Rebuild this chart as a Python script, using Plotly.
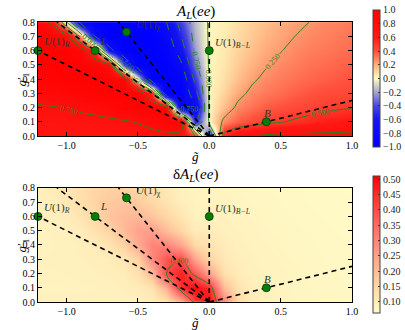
import plotly.graph_objects as go

# grid of the coupling plane
g_tilde = [-1.2, -1.1, -1.0, -0.9, -0.8, -0.7, -0.6, -0.5, -0.4, -0.3, -0.2, -0.1,
           0.0, 0.1, 0.2, 0.3, 0.4, 0.5, 0.6, 0.7, 0.8, 0.9, 1.0]
g1_prime = [0.0, 0.1, 0.2, 0.3, 0.4, 0.5, 0.6, 0.7, 0.8]

# A_L(ee) (rows = g1', columns = g_tilde)
a_l = [
    [0.68, 0.68, 0.68, 0.68, 0.68, 0.68, 0.68, 0.68, 0.68, 0.68, 0.65, 0.5, -0.5, 0.55, 0.7, 0.75, 0.78, 0.8, 0.8, 0.8, 0.8, 0.8, 0.8],
    [0.68, 0.68, 0.68, 0.68, 0.69, 0.71, 0.73, 0.76, 0.82, 0.92, 0.95, -0.5, 0.02, 0.28, 0.37, 0.42, 0.46, 0.49, 0.52, 0.55, 0.58, 0.6, 0.63],
    [0.73, 0.74, 0.76, 0.79, 0.82, 0.86, 0.92, 0.95, 0.95, 0.88, -0.9, -0.8, 0.02, 0.16, 0.28, 0.33, 0.37, 0.40, 0.42, 0.44, 0.46, 0.48, 0.49],
    [0.82, 0.85, 0.88, 0.91, 0.94, 0.95, 0.95, 0.95, 0.5, -1.0, -1.0, -0.6, 0.02, 0.11, 0.21, 0.28, 0.315, 0.34, 0.37, 0.39, 0.41, 0.42, 0.43],
    [0.91, 0.93, 0.95, 0.95, 0.95, 0.95, 0.88, 0.0, -1.0, -1.0, -0.95, -0.45, 0.02, 0.08, 0.16, 0.23, 0.28, 0.31, 0.33, 0.35, 0.37, 0.385, 0.40],
    [0.95, 0.95, 0.95, 0.95, 0.92, 0.78, -0.4, -1.0, -1.0, -1.0, -0.8, -0.3, 0.02, 0.065, 0.13, 0.19, 0.24, 0.28, 0.305, 0.325, 0.34, 0.355, 0.37],
    [0.95, 0.95, 0.95, 0.88, 0.5, -0.65, -1.0, -1.0, -1.0, -0.95, -0.63, -0.22, 0.02, 0.055, 0.11, 0.16, 0.21, 0.245, 0.28, 0.30, 0.315, 0.33, 0.34],
    [0.95, 0.92, 0.8, 0.2, -0.75, -1.0, -1.0, -1.0, -1.0, -0.85, -0.52, -0.18, 0.02, 0.045, 0.09, 0.135, 0.185, 0.22, 0.25, 0.28, 0.295, 0.31, 0.325],
    [0.88, 0.7, 0.0, -0.85, -1.0, -1.0, -1.0, -1.0, -0.95, -0.75, -0.42, -0.15, 0.02, 0.04, 0.08, 0.12, 0.16, 0.2, 0.23, 0.25, 0.28, 0.295, 0.31],
]

# delta A_L(ee)
d_a_l = [
    [0.09, 0.09, 0.09, 0.09, 0.09, 0.09, 0.09, 0.09, 0.1, 0.12, 0.22, 0.42, 0.5, 0.3, 0.14, 0.1, 0.09, 0.085, 0.08, 0.08, 0.078, 0.076, 0.075],
    [0.085, 0.085, 0.085, 0.086, 0.087, 0.09, 0.095, 0.10, 0.12, 0.22, 0.45, 0.5, 0.45, 0.2, 0.12, 0.095, 0.088, 0.083, 0.08, 0.078, 0.076, 0.075, 0.074],
    [0.086, 0.087, 0.088, 0.09, 0.092, 0.095, 0.1, 0.125, 0.2, 0.4, 0.47, 0.38, 0.25, 0.13, 0.1, 0.09, 0.085, 0.082, 0.079, 0.077, 0.075, 0.074, 0.073],
    [0.088, 0.089, 0.09, 0.093, 0.097, 0.10, 0.115, 0.16, 0.29, 0.38, 0.4, 0.24, 0.15, 0.11, 0.095, 0.087, 0.083, 0.08, 0.078, 0.076, 0.074, 0.073, 0.072],
    [0.085, 0.087, 0.09, 0.095, 0.10, 0.12, 0.16, 0.23, 0.3, 0.3, 0.24, 0.14, 0.12, 0.1, 0.09, 0.085, 0.081, 0.078, 0.076, 0.075, 0.073, 0.072, 0.071],
    [0.087, 0.088, 0.093, 0.10, 0.125, 0.155, 0.2, 0.25, 0.25, 0.2, 0.15, 0.1, 0.1, 0.092, 0.087, 0.082, 0.079, 0.077, 0.075, 0.074, 0.072, 0.071, 0.07],
    [0.088, 0.093, 0.098, 0.12, 0.145, 0.18, 0.205, 0.205, 0.185, 0.15, 0.115, 0.087, 0.09, 0.087, 0.083, 0.08, 0.077, 0.075, 0.074, 0.072, 0.071, 0.07, 0.07],
    [0.091, 0.094, 0.11, 0.13, 0.155, 0.175, 0.18, 0.17, 0.145, 0.12, 0.093, 0.085, 0.085, 0.083, 0.08, 0.078, 0.076, 0.074, 0.073, 0.071, 0.07, 0.07, 0.069],
    [0.09, 0.105, 0.115, 0.13, 0.15, 0.16, 0.16, 0.145, 0.125, 0.11, 0.089, 0.083, 0.082, 0.08, 0.078, 0.076, 0.074, 0.073, 0.072, 0.07, 0.07, 0.069, 0.068],
]

# colour bar ticks
top_ticks = [-1.0, -0.8, -0.6, -0.4, -0.2, 0.0, 0.2, 0.4, 0.6, 0.8, 1.0]
top_ticktext = ['−1.0', '−0.8', '−0.6', '−0.4', '−0.2', '0.0', '0.2', '0.4', '0.6', '0.8', '1.0']
bot_ticks = [0.10, 0.15, 0.20, 0.25, 0.30, 0.35, 0.40, 0.45, 0.50]
bot_ticktext = ['0.10', '0.15', '0.20', '0.25', '0.30', '0.35', '0.40', '0.45', '0.50']

# benchmark models
model_names = ['<i>U</i>(1)<sub><i>R</i></sub>', '<i>L</i>', '<i>U</i>(1)<sub>χ</sub>',
               '<i>U</i>(1)<sub><i>B−L</i></sub>', '<i>B</i>']
model_gt = [-1.2, -0.8, -0.58, 0.0, 0.4]
model_g1 = [0.6, 0.6, 0.73, 0.6, 0.1]

GREEN = 'rgb(40,130,30)'
FONT = 'Liberation Serif'

scale_top = [
    [0.0, 'rgb(0,0,255)'], [0.2, 'rgb(20,20,240)'], [0.3, 'rgb(70,70,225)'],
    [0.4, 'rgb(165,165,205)'], [0.5, 'rgb(255,255,195)'], [0.6, 'rgb(255,175,125)'],
    [0.7, 'rgb(255,80,60)'], [0.8, 'rgb(255,25,20)'], [1.0, 'rgb(255,0,0)'],
]
scale_bot = [
    [0.0, 'rgb(255,252,200)'], [0.195, 'rgb(255,215,165)'], [0.418, 'rgb(255,160,140)'],
    [0.642, 'rgb(255,105,100)'], [0.866, 'rgb(255,45,45)'], [1.0, 'rgb(255,0,0)'],
]

fig = go.Figure()

def cbar(y0, ticks, text):
    return dict(x=1.067, xanchor='left', y=y0, yanchor='bottom', len=0.452, lenmode='fraction',
                thickness=7, xpad=0, ypad=0, outlinewidth=1, outlinecolor='#444',
                tickvals=ticks, ticktext=text, ticks='inside', ticklen=2, tickcolor='#333',
                tickfont=dict(family=FONT, size=10, color='#222'))

fig.add_trace(go.Heatmap(x=g_tilde, y=g1_prime, z=a_l, zsmooth='best', zmin=-1, zmax=1,
                         colorscale=scale_top, xaxis='x', yaxis='y',
                         colorbar=cbar(0.548, top_ticks, top_ticktext)))
fig.add_trace(go.Heatmap(x=g_tilde, y=g1_prime, z=d_a_l, zsmooth='best', zmin=0.063, zmax=0.51,
                         colorscale=scale_bot, xaxis='x2', yaxis='y2',
                         colorbar=cbar(0.0, bot_ticks, bot_ticktext)))

# contour lines: positive levels solid, negative dashed
for start, end, dash, xa, ya, z in [(0, 0.75, 'solid', 'x', 'y', a_l),
                                    (-0.75, -0.25, 'dash', 'x', 'y', a_l),
                                    (0.4, 0.4, 'solid', 'x2', 'y2', d_a_l)]:
    fig.add_trace(go.Contour(x=g_tilde, y=g1_prime, z=z, xaxis=xa, yaxis=ya, showscale=False,
                             contours=dict(start=start, end=end, size=0.25, coloring='none',
                                           showlabels=True, labelformat='.3f',
                                           labelfont=dict(family=FONT, size=8, color=GREEN)),
                             line=dict(color=GREEN, width=1, dash=dash), hoverinfo='skip'))

# dashed model lines through the origin, extended to the frame
for gx, gy in zip(model_gt, model_g1):
    if gx == 0:
        k = 0.8 / gy
    elif gy / abs(gx) > 0.8 / (1.2 if gx < 0 else 1.0):
        k = 0.8 / gy
    else:
        k = (1.2 if gx < 0 else 1.0) / abs(gx)
    for xa, ya in [('x', 'y'), ('x2', 'y2')]:
        fig.add_trace(go.Scatter(x=[0, gx * k], y=[0, gy * k], mode='lines', xaxis=xa, yaxis=ya,
                                 line=dict(color='black', width=1.6, dash='5px,4px'),
                                 showlegend=False, hoverinfo='skip'))

for xa, ya in [('x', 'y'), ('x2', 'y2')]:
    fig.add_trace(go.Scatter(x=model_gt, y=model_g1, mode='markers', xaxis=xa, yaxis=ya,
                             marker=dict(size=8, color='rgb(0,128,0)', line=dict(color='#113311', width=0.8)),
                             showlegend=False, cliponaxis=False))

label_pos = [(-1.17, 0.66, 'left'), (-0.78, 0.67, 'left'), (-0.53, 0.78, 'left'),
             (0.025, 0.65, 'left'), (0.41, 0.16, 'center')]
annotations = []
for name, (lx, ly, anc) in zip(model_names, label_pos):
    for xa, ya in [('x', 'y'), ('x2', 'y2')]:
        annotations.append(dict(x=lx, y=ly, xref=xa, yref=ya, text=name, showarrow=False,
                                xanchor=anc, yanchor='middle', font=dict(family=FONT, size=11, color='#333')))

for txt, ay in [('<i>A</i><sub><i>L</i></sub>(<i>ee</i>)', 0.993),
                ('δ<i>A</i><sub><i>L</i></sub>(<i>ee</i>)', 0.455)]:
    annotations.append(dict(x=0.5, y=ay, xref='paper', yref='paper', text=txt, showarrow=False,
                            yanchor='middle', font=dict(family=FONT, size=15, color='black')))
for ay in [0.518, -0.033]:
    annotations.append(dict(x=0.5, y=ay, xref='paper', yref='paper', text='<i>g̃</i>', showarrow=False,
                            yanchor='middle', font=dict(family=FONT, size=13, color='black')))
for ay in [0.772, 0.224]:
    annotations.append(dict(x=-0.083, y=ay, xref='paper', yref='paper', text='<i>g</i>′<sub>1</sub>',
                            showarrow=False, textangle=-90, yanchor='middle',
                            font=dict(family=FONT, size=13, color='black')))

axis_style = dict(showgrid=False, zeroline=False, showline=True, linecolor='black', linewidth=1,
                  mirror='allticks', ticks='inside', ticklen=4, tickcolor='black',
                  tickfont=dict(family=FONT, size=10, color='black'))

fig.update_layout(
    width=405, height=330,
    margin=dict(l=38, r=53, t=10, b=17, autoexpand=False),
    paper_bgcolor='white', plot_bgcolor='white',
    showlegend=False,
    xaxis=dict(domain=[0, 1], anchor='y', range=[-1.2, 1.0], tickvals=[-1.0, -0.5, 0.0, 0.5, 1.0],
               tickformat='.1f', **axis_style),
    yaxis=dict(domain=[0.584, 0.960], anchor='x', range=[0, 0.8], dtick=0.1, tickformat='.1f', **axis_style),
    xaxis2=dict(domain=[0, 1], anchor='y2', range=[-1.2, 1.0], tickvals=[-1.0, -0.5, 0.0, 0.5, 1.0],
                tickformat='.1f', **axis_style),
    yaxis2=dict(domain=[0.036, 0.413], anchor='x2', range=[0, 0.8], dtick=0.1, tickformat='.1f', **axis_style),
    annotations=annotations,
)

# drop the default 8px page margin so the figure fills the window exactly
fig.write_html("out.html", config={'displayModeBar': False},
               post_script="document.body.style.margin = '0px';")
